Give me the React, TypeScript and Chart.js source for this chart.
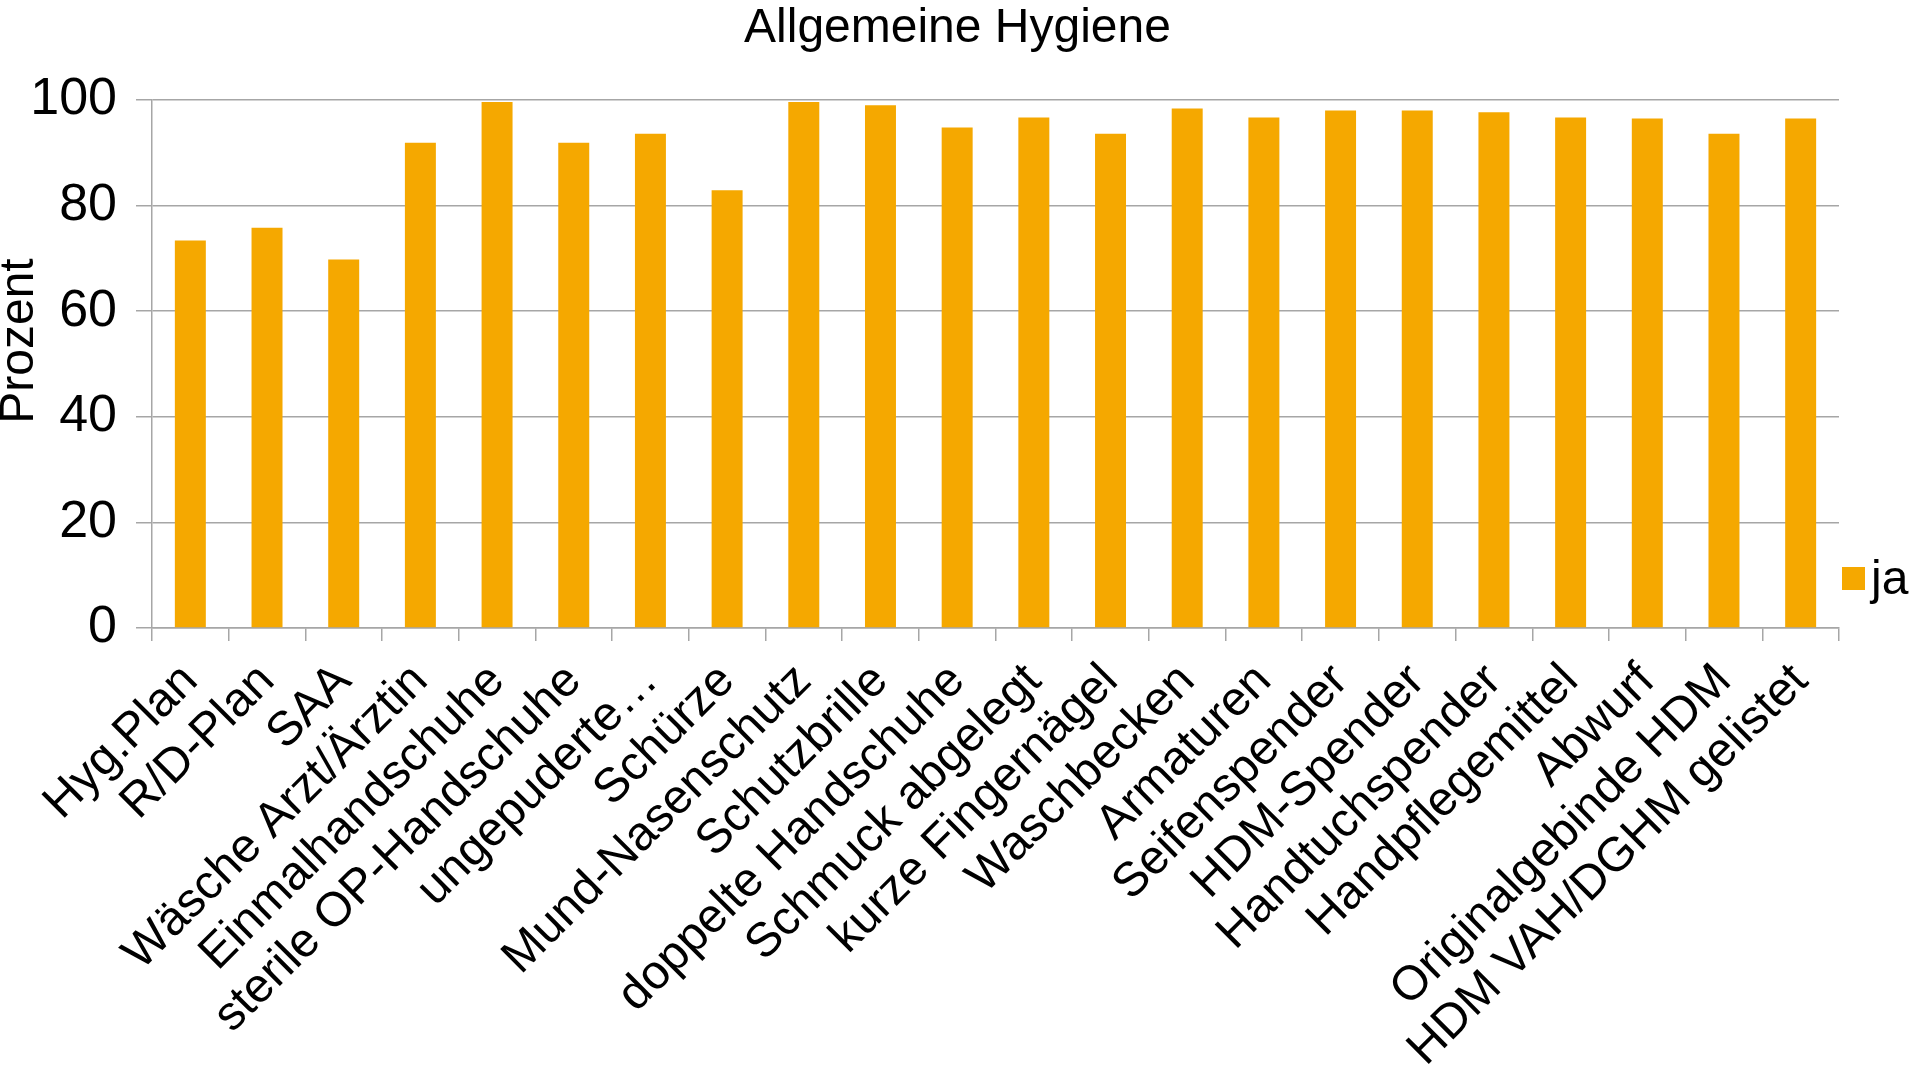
import React, { useEffect, useRef } from 'react';
import { Chart, registerables } from 'chart.js';

Chart.register(...registerables);

const chartTitle = 'Allgemeine Hygiene';
const yAxisTitle = 'Prozent';
const seriesName = 'ja';

const categories = [
  'Hyg.Plan',
  'R/D-Plan',
  'SAA',
  'Wäsche Arzt/Ärztin',
  'Einmalhandschuhe',
  'sterile OP-Handschuhe',
  'ungepuderte…',
  'Schürze',
  'Mund-Nasenschutz',
  'Schutzbrille',
  'doppelte Handschuhe',
  'Schmuck abgelegt',
  'kurze Fingernägel',
  'Waschbecken',
  'Armaturen',
  'Seifenspender',
  'HDM-Spender',
  'Handtuchspender',
  'Handpflegemittel',
  'Abwurf',
  'Originalgebinde HDM',
  'HDM VAH/DGHM gelistet',
];

const jaValues = [
  73.4, 75.8, 69.8, 91.9, 99.6, 91.9, 93.6, 82.9, 99.6, 99.0, 94.8,
  96.7, 93.6, 98.4, 96.7, 98.0, 98.0, 97.7, 96.7, 96.5, 93.6, 96.5,
];

const yTickValues = [0, 20, 40, 60, 80, 100];

const FONT = "'Liberation Sans', Arial, Helvetica, sans-serif";
const BAR_COLOR = '#F5A800';
const GRID_COLOR = '#A6A6A6';

export default function App() {
  const canvasRef = useRef<HTMLCanvasElement | null>(null);

  useEffect(() => {
    const canvas = canvasRef.current;
    if (!canvas) return;

    const extrasPlugin = {
      id: 'extras',
      afterDraw(chart: any) {
        const ctx = chart.ctx as CanvasRenderingContext2D;
        const area = chart.chartArea;
        ctx.save();
        ctx.fillStyle = '#000';
        // title
        ctx.font = `48px ${FONT}`;
        ctx.textAlign = 'center';
        ctx.textBaseline = 'middle';
        ctx.fillText(chartTitle, chart.width / 2, 29);
        // legend
        const boxX = area.right + 3;
        const boxY = 567;
        const boxSize = 23;
        ctx.fillStyle = BAR_COLOR;
        ctx.fillRect(boxX, boxY, boxSize, boxSize);
        ctx.fillStyle = '#000';
        ctx.font = `48px ${FONT}`;
        ctx.textAlign = 'left';
        ctx.textBaseline = 'middle';
        ctx.fillText(seriesName, boxX + boxSize + 6, boxY + boxSize / 2 + 2);
        // y axis title
        ctx.translate(20, 341);
        ctx.rotate(-Math.PI / 2);
        ctx.textAlign = 'center';
        ctx.textBaseline = 'middle';
        ctx.font = `48px ${FONT}`;
        ctx.fillText(yAxisTitle, 0, 0);
        ctx.restore();
      },
    };

    const chart = new Chart(canvas, {
      type: 'bar',
      data: {
        labels: categories,
        datasets: [
          {
            label: seriesName,
            data: jaValues,
            backgroundColor: BAR_COLOR,
            borderWidth: 0,
            barPercentage: 0.404,
            categoryPercentage: 1,
          },
        ],
      },
      options: {
        responsive: false,
        animation: false,
        layout: { padding: { left: 0, right: 76, top: 100, bottom: 0 } },
        plugins: {
          legend: { display: false },
          tooltip: { enabled: false },
          title: { display: false },
        },
        scales: {
          x: {
            afterFit: (scale: any) => {
              scale.height = 445;
            },
            grid: {
              display: true,
              offset: true,
              drawOnChartArea: false,
              drawTicks: true,
              tickLength: 13,
              color: GRID_COLOR,
              lineWidth: 1.5,
            },
            border: { display: true, color: GRID_COLOR, width: 1.5 },
            ticks: {
              autoSkip: false,
              minRotation: 45,
              maxRotation: 45,
              padding: 12,
              color: '#000',
              font: { family: FONT, size: 48 },
            },
          },
          y: {
            min: yTickValues[0],
            max: yTickValues[yTickValues.length - 1],
            afterFit: (scale: any) => {
              scale.width = 152;
            },
            afterBuildTicks: (scale: any) => {
              scale.ticks = yTickValues.map((v) => ({ value: v }));
            },
            grid: {
              color: GRID_COLOR,
              lineWidth: 1.5,
              drawTicks: true,
              tickLength: 16,
            },
            border: { display: true, color: GRID_COLOR, width: 1.5 },
            ticks: {
              padding: 19,
              color: '#000',
              font: { family: FONT, size: 52 },
            },
          },
        },
      },
      plugins: [extrasPlugin],
    });

    return () => {
      chart.destroy();
    };
  }, []);

  return (
    <div
      style={{
        position: 'fixed',
        left: 0,
        top: 0,
        width: 1915,
        height: 1073,
        background: '#fff',
      }}
    >
      <canvas
        ref={canvasRef}
        width={1915}
        height={1073}
        style={{ display: 'block', width: 1915, height: 1073 }}
      />
    </div>
  );
}
